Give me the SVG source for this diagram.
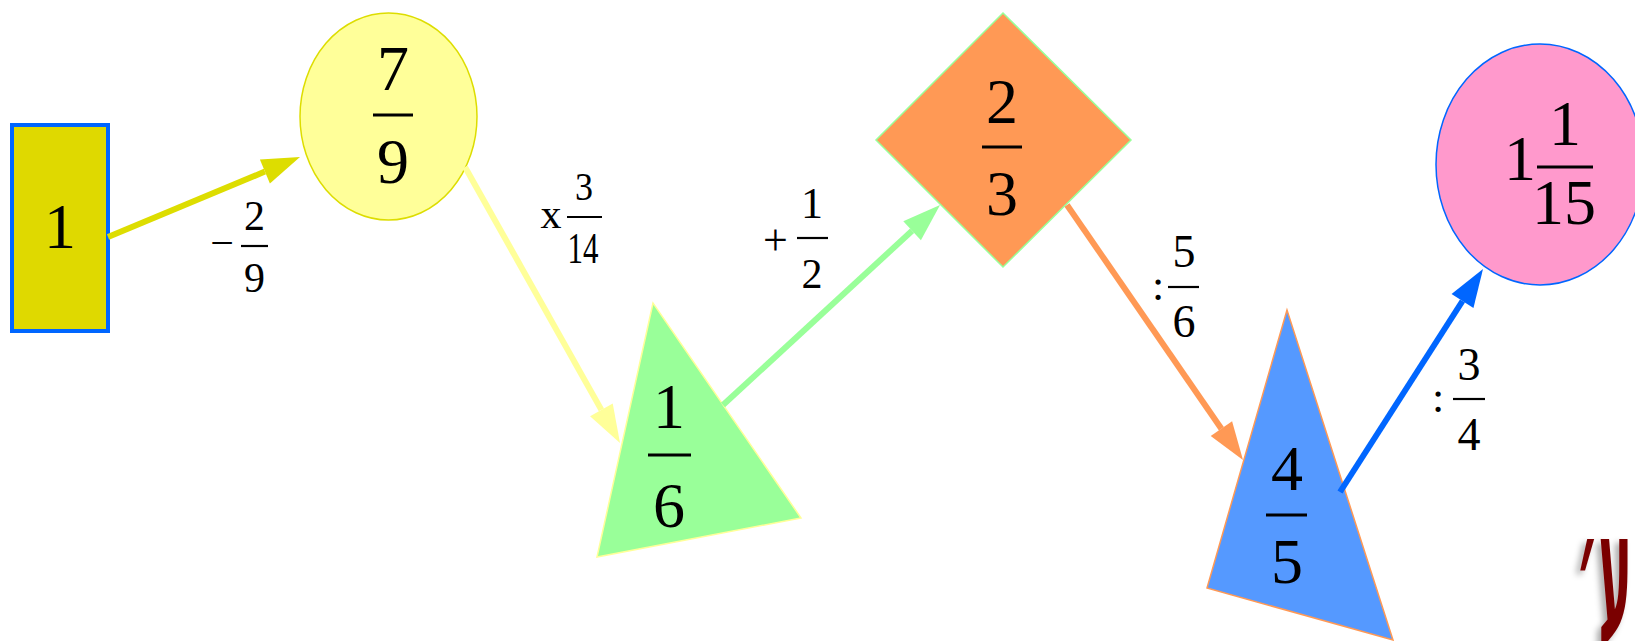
<svg xmlns="http://www.w3.org/2000/svg" width="1635" height="641" viewBox="0 0 1635 641">
<style>
.n{font-family:"Liberation Serif","Times New Roman",serif;font-size:64px;fill:#000;text-anchor:middle}
.l{font-family:"Liberation Serif","Times New Roman",serif;fill:#000;text-anchor:middle}
.bar{stroke:#000;stroke-width:3.2}
.lbar{stroke:#000;stroke-width:2.2}
.c{fill:none;stroke-width:6}
</style>
<defs>
<marker id="m1" markerUnits="userSpaceOnUse" markerWidth="40" markerHeight="26" refX="0" refY="13" orient="auto" overflow="visible"><path d="M0,0 L38,13 L0,26 z" fill="#dddd00"/></marker>
<marker id="m2" markerUnits="userSpaceOnUse" markerWidth="40" markerHeight="26" refX="0" refY="13" orient="auto" overflow="visible"><path d="M0,0 L38,13 L0,26 z" fill="#ffff99"/></marker>
<marker id="m3" markerUnits="userSpaceOnUse" markerWidth="40" markerHeight="26" refX="0" refY="13" orient="auto" overflow="visible"><path d="M0,0 L38,13 L0,26 z" fill="#99ff99"/></marker>
<marker id="m4" markerUnits="userSpaceOnUse" markerWidth="40" markerHeight="26" refX="0" refY="13" orient="auto" overflow="visible"><path d="M0,0 L38,13 L0,26 z" fill="#ff9955"/></marker>
<marker id="m5" markerUnits="userSpaceOnUse" markerWidth="40" markerHeight="26" refX="0" refY="13" orient="auto" overflow="visible"><path d="M0,0 L38,13 L0,26 z" fill="#0066ff"/></marker>
<filter id="sh" x="-30%" y="-30%" width="160%" height="160%"><feDropShadow dx="-4" dy="4" stdDeviation="3" flood-color="#000" flood-opacity="0.35"/></filter>
</defs>

<g id="node-1">
<rect x="12" y="125" width="96" height="206" fill="#dfd900" stroke="#0066ff" stroke-width="4"/>
<text class="n" x="60" y="248">1</text>
</g>

<g id="node-7-9">
<ellipse cx="388.5" cy="116.5" rx="88.5" ry="103.5" fill="#ffff99" stroke="#dddd00" stroke-width="1.5"/>
<text class="n" x="393" y="90">7</text>
<line class="bar" x1="373" y1="115" x2="413" y2="115"/>
<text class="n" x="393" y="183">9</text>
</g>

<g id="node-1-6">
<polygon points="653,303 597,557 801,518" fill="#99ff99" stroke="#ffff99" stroke-width="1.5"/>
<text class="n" x="669" y="428">1</text>
<line class="bar" x1="648" y1="455" x2="691" y2="455"/>
<text class="n" x="669" y="527">6</text>
</g>

<g id="node-2-3">
<polygon points="1003,13 1131,140 1003,267 876,140" fill="#ff9955" stroke="#99ff99" stroke-width="1.5"/>
<text class="n" x="1002" y="123">2</text>
<line class="bar" x1="982" y1="147" x2="1022" y2="147"/>
<text class="n" x="1002" y="215">3</text>
</g>

<g id="node-4-5">
<polygon points="1287,310 1207,588 1393,640" fill="#5599ff" stroke="#ff9955" stroke-width="1.5"/>
<text class="n" x="1287" y="490">4</text>
<line class="bar" x1="1266" y1="515" x2="1307" y2="515"/>
<text class="n" x="1287" y="583">5</text>
</g>

<g id="node-1-1-15">
<ellipse cx="1540" cy="164.5" rx="104" ry="120.5" fill="#ff99cc" stroke="#0066ff" stroke-width="1.5"/>
<text class="n" x="1520" y="180">1</text>
<text class="n" x="1565" y="145">1</text>
<line class="bar" x1="1537" y1="167" x2="1593" y2="167"/>
<text class="n" x="1564" y="224">15</text>
</g>

<g id="connectors">
<line class="c" x1="108" y1="237" x2="264.9" y2="171.6" stroke="#dddd00" marker-end="url(#m1)"/>
<line class="c" x1="465" y1="167" x2="601.4" y2="409.9" stroke="#ffff99" marker-end="url(#m2)"/>
<line class="c" x1="723" y1="405" x2="912.1" y2="230.8" stroke="#99ff99" marker-end="url(#m3)"/>
<line class="c" x1="1067" y1="205" x2="1221.4" y2="428.7" stroke="#ff9955" marker-end="url(#m4)"/>
<line class="c" x1="1340" y1="492" x2="1462.5" y2="301" stroke="#0066ff" marker-end="url(#m5)"/>
</g>

<g id="labels">
<g id="label-minus-2-9">
<text class="l" x="222" y="257" font-size="42">−</text>
<text class="l" x="254.5" y="230" font-size="42">2</text>
<line class="lbar" x1="241" y1="246" x2="268" y2="246"/>
<text class="l" x="254.5" y="292" font-size="42">9</text>
</g>
<g id="label-x-3-14">
<text class="l" x="551" y="228" font-size="42">x</text>
<text class="l" x="584" y="200" font-size="40" textLength="18" lengthAdjust="spacingAndGlyphs">3</text>
<line class="lbar" x1="567" y1="217" x2="602" y2="217"/>
<text class="l" x="583" y="263" font-size="44" textLength="31" lengthAdjust="spacingAndGlyphs">14</text>
</g>
<g id="label-plus-1-2">
<text class="l" x="775.5" y="255" font-size="44">+</text>
<text class="l" x="812" y="218" font-size="44">1</text>
<line class="lbar" x1="797" y1="238" x2="828" y2="238"/>
<text class="l" x="812" y="288" font-size="42">2</text>
</g>
<g id="label-div-5-6">
<text class="l" x="1158" y="300" font-size="44">:</text>
<text class="l" x="1184" y="267" font-size="46">5</text>
<line class="lbar" x1="1168" y1="287" x2="1199" y2="287"/>
<text class="l" x="1184" y="337" font-size="46">6</text>
</g>
<g id="label-div-3-4">
<text class="l" x="1438" y="412" font-size="44">:</text>
<text class="l" x="1469" y="380" font-size="46">3</text>
<line class="lbar" x1="1453" y1="399" x2="1485" y2="399"/>
<text class="l" x="1469" y="450" font-size="46">4</text>
</g>
</g>

<text x="1576" y="632" font-family="DejaVu Sans, sans-serif" font-weight="bold" font-size="170" fill="#7a0000" filter="url(#sh)" textLength="56" lengthAdjust="spacingAndGlyphs">ע׳</text>
</svg>
